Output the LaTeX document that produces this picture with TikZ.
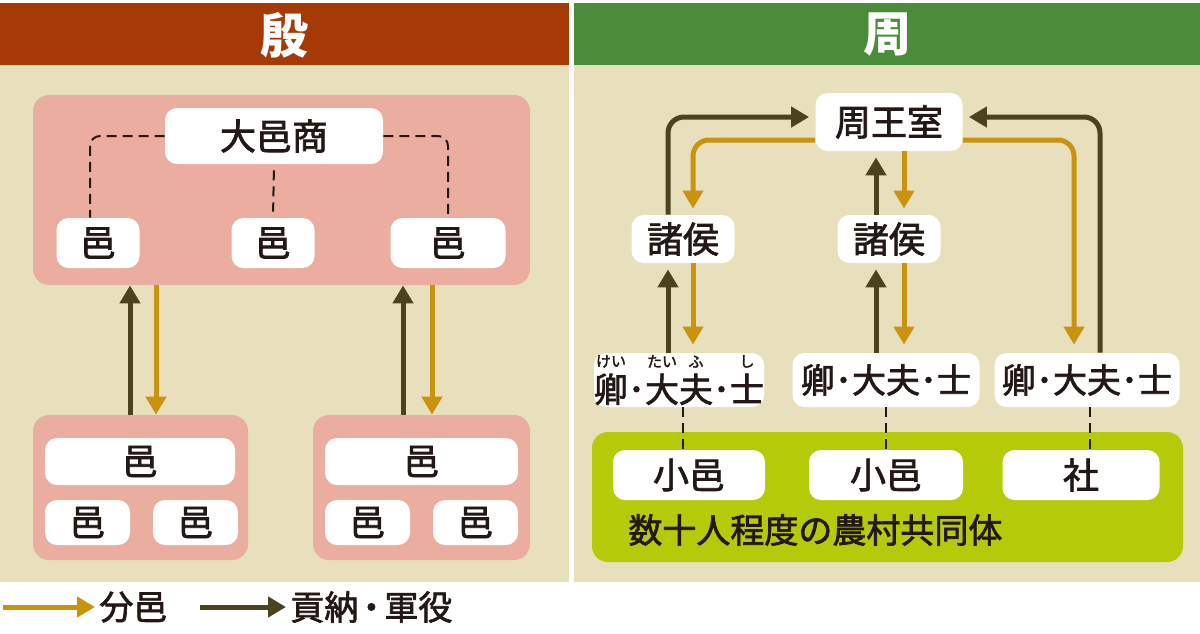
\documentclass[tikz,border=0pt]{standalone}
\usepackage{fontspec}
\setmainfont{Noto Sans CJK JP}
\newfontfamily\jp{Noto Sans CJK JP}[FakeBold=2]
\usetikzlibrary{arrows.meta}

\definecolor{yinred}{HTML}{A63A06}
\definecolor{zhougreen}{HTML}{4A8C3A}
\definecolor{paper}{HTML}{E8E0BD}
\definecolor{pinkbg}{HTML}{EAADA0}
\definecolor{limebg}{HTML}{B5CB0A}
\definecolor{gold}{HTML}{C9930E}
\definecolor{olive}{HTML}{4B4220}
\definecolor{ink}{HTML}{231815}

\newcommand\ndot{･}
\newcommand\rb[2]{\shortstack{{\fontsize{7.5}{8}\selectfont #2}\\#1}}

\begin{document}
\begin{tikzpicture}[x=0.5pt,y=-0.5pt,
  wbox/.style={fill=white, rounded corners=6pt, inner sep=0pt, text=ink,
    font=\jp\fontsize{18}{18}\selectfont},
  pinkarea/.style={fill=pinkbg, rounded corners=8pt, inner sep=0pt},
  head/.style={text=white, font=\fontsize{24}{24}\selectfont\bfseries},
  tribute/.style={draw=olive, line width=2.5pt, rounded corners=8pt,
    -{Triangle[width=10pt,length=9pt]}},
  fief/.style={draw=gold, line width=2.5pt, rounded corners=8pt,
    -{Triangle[width=10pt,length=9pt]}},
  link/.style={draw=ink, line width=1pt, dash pattern=on 5pt off 3pt},
  legend/.style={text=ink, anchor=west, inner sep=0pt, font=\jp\fontsize{17}{17}\selectfont}
]
\useasboundingbox (0,0) rectangle (1200,633);
\fill[white] (0,0) rectangle (1200,633);

% panels
\fill[yinred] (0,3) rectangle (569,65);
\fill[paper] (0,65) rectangle (569,582);
\fill[zhougreen] (574,3) rectangle (1200,65);
\fill[paper] (574,65) rectangle (1200,582);
\node[head] (yin) at (284,35) {殷};
\node[head] (zhou) at (887,35) {周};

% --- Yin ---
\node[pinkarea, minimum width=248.5pt, minimum height=95pt] (capital) at (281.5,190) {};
\node[pinkarea, minimum width=107.5pt, minimum height=72.5pt] (lowL) at (140.5,487.5) {};
\node[pinkarea, minimum width=108.5pt, minimum height=72.5pt] (lowR) at (421.5,487.5) {};

\node[wbox, minimum width=109pt, minimum height=28pt] (shang) at (274,136) {大邑商};
\node[wbox, minimum width=41.5pt, minimum height=25pt] (yu1) at (98,243) {邑};
\node[wbox, minimum width=41.5pt, minimum height=25pt] (yu2) at (273,243) {邑};
\node[wbox, minimum width=57.5pt, minimum height=25pt] (yu3) at (448,243) {邑};

\node[wbox, minimum width=95pt, minimum height=23.5pt] (yuL) at (140,461.5) {邑};
\node[wbox, minimum width=42.5pt, minimum height=22.5pt] (yuLa) at (87.5,522.5) {邑};
\node[wbox, minimum width=42.5pt, minimum height=22.5pt] (yuLb) at (195.5,522.5) {邑};
\node[wbox, minimum width=96.5pt, minimum height=23.5pt] (yuR) at (421.5,461.5) {邑};
\node[wbox, minimum width=42.5pt, minimum height=22.5pt] (yuRa) at (367.5,522.5) {邑};
\node[wbox, minimum width=42.5pt, minimum height=22.5pt] (yuRb) at (475.5,522.5) {邑};

\draw[link, rounded corners=5pt] (shang.west) -| ([xshift=-4pt]yu1.north);
\draw[link, shorten <=3pt, shorten >=3pt] (shang.south) -- (yu2.north);
\draw[link, rounded corners=5pt] (shang.east) -| (yu3.north);

\draw[tribute] (lowL.north -| 130,0) -- (capital.south -| 130,0);
\draw[fief] (capital.south -| 156,0) -- (lowL.north -| 156,0);
\draw[tribute] (lowR.north -| 403,0) -- (capital.south -| 403,0);
\draw[fief] (capital.south -| 432,0) -- (lowR.north -| 432,0);

% --- Zhou ---
\node[pinkarea, fill=limebg, minimum width=295.5pt, minimum height=65pt] (village) at (887.5,497) {};

\node[wbox, minimum width=73.5pt, minimum height=29pt] (royal) at (889,122) {周王室};
\node[wbox, minimum width=51.5pt, minimum height=24pt] (lordL) at (683,239) {諸侯};
\node[wbox, minimum width=51.5pt, minimum height=24pt] (lordM) at (889,239) {諸侯};
\node[wbox, minimum width=85pt, minimum height=27pt, font=\jp\fontsize{17}{17}\selectfont] (minL) at (679,380)
  {\rb{卿}{けい}\ndot\rb{大}{たい}\rb{夫}{ふ}\ndot\rb{士}{し}};
\node[wbox, minimum width=93.5pt, minimum height=27pt, font=\jp\fontsize{17}{17}\selectfont] (minM) at (886,380) {卿\ndot 大夫\ndot 士};
\node[wbox, minimum width=92.5pt, minimum height=27pt, font=\jp\fontsize{17}{17}\selectfont] (minR) at (1087,380) {卿\ndot 大夫\ndot 士};

\node[wbox, minimum width=76pt, minimum height=25pt] (townL) at (689,475) {小邑};
\node[wbox, minimum width=77pt, minimum height=25pt] (townM) at (886,475) {小邑};
\node[wbox, minimum width=78.5pt, minimum height=25pt] (shrine) at (1081,475) {社};
\node[legend] (commune) at (628,530) {数十人程度の農村共同体};

\draw[link] (minL.south -| 683,0) -- (townL.north -| 683,0);
\draw[link] (minM.south) -- (townM.north -| minM.south);
\draw[link] (minR.south -| 1090,0) -- (shrine.north -| 1090,0);

\draw[tribute, shorten >=3pt] (lordL.north -| 668,0) |- (royal.west |- 0,117);
\draw[fief, shorten >=3pt] (royal.west |- 0,140) -| (lordL.north -| 693,0);
\draw[tribute, shorten >=3pt] (minL.north -| 668,0) -- (lordL.south -| 668,0);
\draw[fief, shorten >=4pt] (lordL.south -| 693,0) -- (minL.north -| 693,0);

\draw[tribute, shorten >=3pt] (lordM.north -| 876,0) -- (royal.south -| 876,0);
\draw[fief, shorten >=3pt] (royal.south -| 904,0) -- (lordM.north -| 904,0);
\draw[tribute, shorten >=3pt] (minM.north -| 876,0) -- (lordM.south -| 876,0);
\draw[fief, shorten >=4pt] (lordM.south -| 904,0) -- (minM.north -| 904,0);

\draw[tribute, shorten >=3pt] (minR.north -| 1100,0) |- (royal.east |- 0,117);
\draw[fief, shorten >=4pt] (royal.east |- 0,140) -| (minR.north -| 1074,0);

% legend
\node[legend] (lgfief) at (99,607) {分邑};
\node[legend] (lgtrib) at (290,607) {貢納\kern-2pt・\kern-2pt 軍役};
\draw[fief, shorten >=2pt] ([xshift=-48pt]lgfief.west) -- (lgfief.west);
\draw[tribute, shorten >=2pt] ([xshift=-45pt]lgtrib.west) -- (lgtrib.west);
\end{tikzpicture}
\end{document}
